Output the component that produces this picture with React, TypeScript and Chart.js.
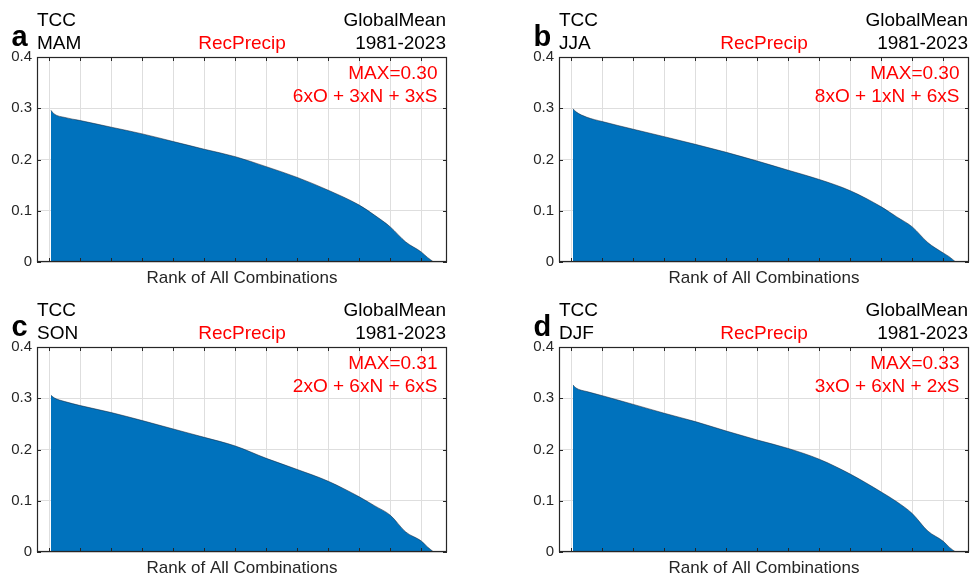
import React, { useEffect, useRef } from 'react';
import { Chart, registerables } from 'chart.js';

Chart.register(...registerables);

// Rank positions at which the sorted correlation curve is sampled
const RANKS = [1, 3, 10, 20, 40, 60, 80, 100, 120, 140, 160, 180, 200, 210, 220, 230, 240, 244, 248];

// Sorted skill of every ensemble combination, per season
const MAM = [0.296, 0.289, 0.282, 0.276, 0.263, 0.25, 0.235, 0.22, 0.2055, 0.186, 0.165, 0.14, 0.111, 0.091, 0.0685, 0.039, 0.0196, 0.009, 0];
const JJA = [0.299, 0.293, 0.2825, 0.274, 0.259, 0.2445, 0.2296, 0.214, 0.197, 0.179, 0.161, 0.139, 0.1076, 0.088, 0.0685, 0.038, 0.0176, 0.01, 0];
const SON = [0.306, 0.301, 0.2935, 0.2857, 0.272, 0.2564, 0.24, 0.2237, 0.2068, 0.1827, 0.161, 0.138, 0.1076, 0.09, 0.0718, 0.039, 0.0215, 0.01, 0];
const DJF = [0.326, 0.32, 0.313, 0.305, 0.288, 0.2707, 0.2544, 0.236, 0.2185, 0.202, 0.181, 0.152, 0.117, 0.098, 0.075, 0.041, 0.0209, 0.009, 0];

// Axis ticks
const X_GRID = [0, 20, 40, 60, 80, 100, 120, 140, 160, 180, 200, 220, 240];
const Y_TICKS = [0, 0.1, 0.2, 0.3, 0.4];
const X_MIN = -8;
const X_MAX = 256.6;

const LETTERS = ['a', 'b', 'c', 'd'];
const SEASONS = ['MAM', 'JJA', 'SON', 'DJF'];
const SERIES = [MAM, JJA, SON, DJF];
const MAX_LABELS = ['MAX=0.30', 'MAX=0.30', 'MAX=0.31', 'MAX=0.33'];
const BEST_COMBOS = ['6xO + 3xN + 3xS', '8xO + 1xN + 6xS', '2xO + 6xN + 6xS', '3xO + 6xN + 2xS'];

const VARIABLE = 'TCC';
const TARGET = 'RecPrecip';
const REGION = 'GlobalMean';
const PERIOD = '1981-2023';
const X_TITLE = 'Rank of All Combinations';

const FONT = '"Liberation Sans", Arial, Helvetica, sans-serif';
const CANVAS_W = 449;
const CANVAS_H = 290;
const PANEL_LEFT = [0, 522, 0, 522];
const PANEL_TOP = [0, 0, 290, 290];

function makeDecor(i: number) {
  return {
    id: 'decor' + i,
    afterDraw(chart: any) {
      const { ctx, chartArea } = chart;
      const { left, right, top, bottom } = chartArea;
      const xs = chart.scales.x;
      const ys = chart.scales.y;
      ctx.save();

      // axes box with inward tick marks
      ctx.strokeStyle = '#262626';
      ctx.lineWidth = 1.2;
      ctx.strokeRect(left + 0.5, top + 0.5, right - left - 1, bottom - top - 1);
      ctx.beginPath();
      ctx.lineWidth = 1;
      const tl = 4;
      X_GRID.forEach((v) => {
        const px = Math.round(xs.getPixelForValue(v)) + 0.5;
        ctx.moveTo(px, top);
        ctx.lineTo(px, top + tl);
        ctx.moveTo(px, bottom);
        ctx.lineTo(px, bottom - tl);
      });
      Y_TICKS.forEach((v) => {
        const py = Math.round(ys.getPixelForValue(v)) + 0.5;
        ctx.moveTo(left, py);
        ctx.lineTo(left + tl, py);
        ctx.moveTo(right, py);
        ctx.lineTo(right - tl, py);
      });
      ctx.stroke();

      ctx.textBaseline = 'alphabetic';
      // panel letter
      ctx.fillStyle = '#000';
      ctx.textAlign = 'left';
      ctx.font = `bold 29px ${FONT}`;
      ctx.fillText(LETTERS[i], left - 25.5, top - 11.3);

      // upper-left and upper-right headers
      ctx.font = `19px ${FONT}`;
      ctx.fillText(VARIABLE, left, top - 31);
      ctx.fillText(SEASONS[i], left, top - 8);
      ctx.textAlign = 'right';
      ctx.fillText(REGION, right - 1, top - 31);
      ctx.fillText(PERIOD, right - 1, top - 8);

      // red annotations
      ctx.fillStyle = '#ff0000';
      ctx.textAlign = 'center';
      ctx.fillText(TARGET, (left + right) / 2, top - 8.5);
      ctx.textAlign = 'right';
      ctx.fillText(MAX_LABELS[i], right - 9.5, top + 22.3);
      ctx.fillText(BEST_COMBOS[i], right - 9.5, top + 44.7);

      // x-axis title
      ctx.fillStyle = '#262626';
      ctx.textAlign = 'center';
      ctx.font = `17px ${FONT}`;
      ctx.fillText(X_TITLE, (left + right) / 2, bottom + 21.3);
      ctx.restore();
    },
  };
}

function Panel({ index }: { index: number }) {
  const ref = useRef<HTMLCanvasElement | null>(null);

  useEffect(() => {
    if (!ref.current) return;
    const values = SERIES[index];
    const chart = new Chart(ref.current, {
      type: 'line',
      data: {
        datasets: [
          {
            data: RANKS.map((r, k) => ({ x: r, y: values[k] })),
            fill: 'origin',
            backgroundColor: '#0072BD',
            borderColor: 'rgba(20,30,45,0.85)',
            borderWidth: 0.6,
            pointRadius: 0,
            cubicInterpolationMode: 'monotone',
          },
        ],
      },
      options: {
        responsive: false,
        animation: false,
        devicePixelRatio: 1,
        events: [],
        layout: { padding: { left: 0, right: 2, top: 57, bottom: 28 } },
        plugins: { legend: { display: false }, tooltip: { enabled: false }, title: { display: false } },
        scales: {
          x: {
            type: 'linear',
            min: X_MIN,
            max: X_MAX,
            afterBuildTicks: (s: any) => {
              s.ticks = X_GRID.map((value) => ({ value }));
            },
            afterFit: (s: any) => {
              s.height = 0;
            },
            ticks: { display: false },
            grid: { color: '#dedede', lineWidth: 1, drawTicks: false },
            border: { display: false },
          },
          y: {
            min: 0,
            max: 0.4,
            afterBuildTicks: (s: any) => {
              s.ticks = Y_TICKS.map((value) => ({ value }));
            },
            afterFit: (s: any) => {
              s.width = 37;
            },
            ticks: {
              padding: 5,
              color: '#262626',
              font: { family: FONT, size: 15 },
              callback: (v: any) => (Number(v) === 0 ? '0' : Number(v).toFixed(1)),
            },
            grid: { color: '#dedede', lineWidth: 1, drawTicks: false },
            border: { display: false },
          },
        },
      },
      plugins: [makeDecor(index)],
    } as any);
    return () => chart.destroy();
  }, [index]);

  return (
    <canvas
      ref={ref}
      width={CANVAS_W}
      height={CANVAS_H}
      style={{
        position: 'absolute',
        left: PANEL_LEFT[index],
        top: PANEL_TOP[index],
        width: CANVAS_W,
        height: CANVAS_H,
      }}
    />
  );
}

export default function App() {
  return (
    <div
      style={{
        position: 'absolute',
        left: 0,
        top: 0,
        width: 971,
        height: 575,
        overflow: 'hidden',
        background: '#fff',
      }}
    >
      {[0, 1, 2, 3].map((i) => (
        <Panel key={i} index={i} />
      ))}
    </div>
  );
}
